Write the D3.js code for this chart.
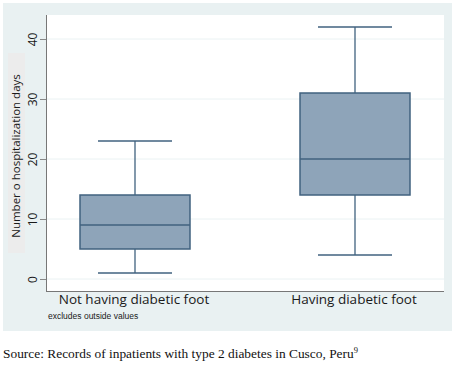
<!DOCTYPE html>
<html lang="en">
<head>
<meta charset="UTF-8">
<title>Hospitalization days boxplot</title>
<script src="https://cdn.jsdelivr.net/npm/d3@7"></script>
<style>
  body { margin: 0; background: #fff; }
</style>
</head>
<body>
<div id="chart"></div>
<script>
// data
var groups = ["Not having diabetic foot", "Having diabetic foot"];
var whiskerLow = [1, 4];
var q1 = [5, 14];
var median = [9, 20];
var q3 = [14, 31];
var whiskerHigh = [23, 42];
var yTicks = [0, 10, 20, 30, 40];

var W = 453, H = 371;
var plot = {left: 46, right: 444, top: 15, bottom: 291};

var svg = d3.select("#chart").append("svg")
    .attr("width", W)
    .attr("height", H);

// outer panel
svg.append("rect")
    .attr("x", 3).attr("y", 3)
    .attr("width", 449).attr("height", 328)
    .attr("fill", "#e9f1f2");

svg.append("rect")
    .attr("x", plot.left).attr("y", plot.top)
    .attr("width", plot.right - plot.left).attr("height", plot.bottom - plot.top)
    .attr("fill", "#ffffff");

var y = d3.scaleLinear()
    .domain([0, 40])
    .range([279, 39]);

var x = d3.scaleBand()
    .domain(groups)
    .range([25, 465])
    .paddingInner(0.5)
    .paddingOuter(0.25);

// gridlines
svg.selectAll("line.grid")
    .data(yTicks)
    .enter().append("line")
    .attr("class", "grid")
    .attr("x1", plot.left).attr("x2", plot.right)
    .attr("y1", function(d) { return y(d); })
    .attr("y2", function(d) { return y(d); })
    .attr("stroke", "#eaf2f3")
    .attr("stroke-width", 1);

// y axis
var yAxis = svg.append("g")
    .attr("transform", "translate(" + plot.left + ",0)")
    .call(d3.axisLeft(y).tickValues(yTicks).tickSize(6).tickPadding(5));
yAxis.select(".domain").remove();
yAxis.selectAll(".tick line").attr("stroke", "#888");
yAxis.selectAll(".tick text")
    .attr("font-family", "'Open Sans', sans-serif")
    .attr("font-size", 12)
    .attr("fill", "#1a1a1a")
    .attr("text-anchor", "middle")
    .attr("transform", "translate(-5,0) rotate(-90)")
    .attr("x", 0)
    .attr("dy", "0.35em")
    .attr("y", -8);

svg.append("line")
    .attr("x1", plot.left + 0.5).attr("x2", plot.left + 0.5)
    .attr("y1", plot.top).attr("y2", plot.bottom)
    .attr("stroke", "#777");
svg.append("line")
    .attr("x1", plot.left).attr("x2", plot.right)
    .attr("y1", plot.bottom + 0.5).attr("y2", plot.bottom + 0.5)
    .attr("stroke", "#777");

// y title with its light box
svg.append("rect")
    .attr("x", 8).attr("y", 53)
    .attr("width", 17).attr("height", 200)
    .attr("fill", "#ececec");
svg.append("text")
    .attr("transform", "translate(20,156) rotate(-90)")
    .attr("text-anchor", "middle")
    .attr("font-family", "'Open Sans', sans-serif")
    .attr("font-size", 11.5)
    .attr("fill", "#1a1a1a")
    .text("Number o hospitalization days");

var boxColor = "#8ea4b9", lineColor = "#40627f";
var capHalf = 37;

var box = svg.selectAll("g.box")
    .data(groups)
    .enter().append("g")
    .attr("class", "box");

// whiskers
box.append("line")
    .attr("x1", function(d) { return x(d) + x.bandwidth() / 2; })
    .attr("x2", function(d) { return x(d) + x.bandwidth() / 2; })
    .attr("y1", function(d, i) { return y(whiskerHigh[i]); })
    .attr("y2", function(d, i) { return y(q3[i]); })
    .attr("stroke", lineColor).attr("stroke-width", 1.3);
box.append("line")
    .attr("x1", function(d) { return x(d) + x.bandwidth() / 2; })
    .attr("x2", function(d) { return x(d) + x.bandwidth() / 2; })
    .attr("y1", function(d, i) { return y(q1[i]); })
    .attr("y2", function(d, i) { return y(whiskerLow[i]); })
    .attr("stroke", lineColor).attr("stroke-width", 1.3);

// caps
[whiskerHigh, whiskerLow].forEach(function(arr) {
    box.append("line")
        .attr("x1", function(d) { return x(d) + x.bandwidth() / 2 - capHalf; })
        .attr("x2", function(d) { return x(d) + x.bandwidth() / 2 + capHalf; })
        .attr("y1", function(d, i) { return y(arr[i]); })
        .attr("y2", function(d, i) { return y(arr[i]); })
        .attr("stroke", lineColor).attr("stroke-width", 1.3);
});

box.append("rect")
    .attr("x", function(d) { return x(d); })
    .attr("width", x.bandwidth())
    .attr("y", function(d, i) { return y(q3[i]); })
    .attr("height", function(d, i) { return y(q1[i]) - y(q3[i]); })
    .attr("fill", boxColor)
    .attr("stroke", lineColor).attr("stroke-width", 1.5);

box.append("line")
    .attr("x1", function(d) { return x(d); })
    .attr("x2", function(d) { return x(d) + x.bandwidth(); })
    .attr("y1", function(d, i) { return y(median[i]); })
    .attr("y2", function(d, i) { return y(median[i]); })
    .attr("stroke", lineColor).attr("stroke-width", 1.3);

// category labels
svg.selectAll("text.cat")
    .data(groups)
    .enter().append("text")
    .attr("class", "cat")
    .attr("x", function(d) { return x(d) + x.bandwidth() / 2 - 1; })
    .attr("y", 304)
    .attr("text-anchor", "middle")
    .attr("font-family", "'Open Sans', sans-serif")
    .attr("font-size", 13.5)
    .attr("font-weight", 500)
    .attr("fill", "#1a1a1a")
    .text(function(d) { return d; });

svg.append("text")
    .attr("x", 48).attr("y", 319)
    .attr("font-family", "'Liberation Sans', Arial, sans-serif")
    .attr("font-size", 8.5)
    .attr("fill", "#1a1a1a")
    .text("excludes outside values");

// source note
var src = svg.append("text")
    .attr("x", 3).attr("y", 358)
    .attr("font-family", "'Liberation Serif', serif")
    .attr("font-size", 13.4)
    .attr("fill", "#111")
    .text("Source: Records of inpatients with type 2 diabetes in Cusco, Peru");
src.append("tspan")
    .attr("dy", -5)
    .attr("font-size", 8.5)
    .text("9");
</script>
</body>
</html>
